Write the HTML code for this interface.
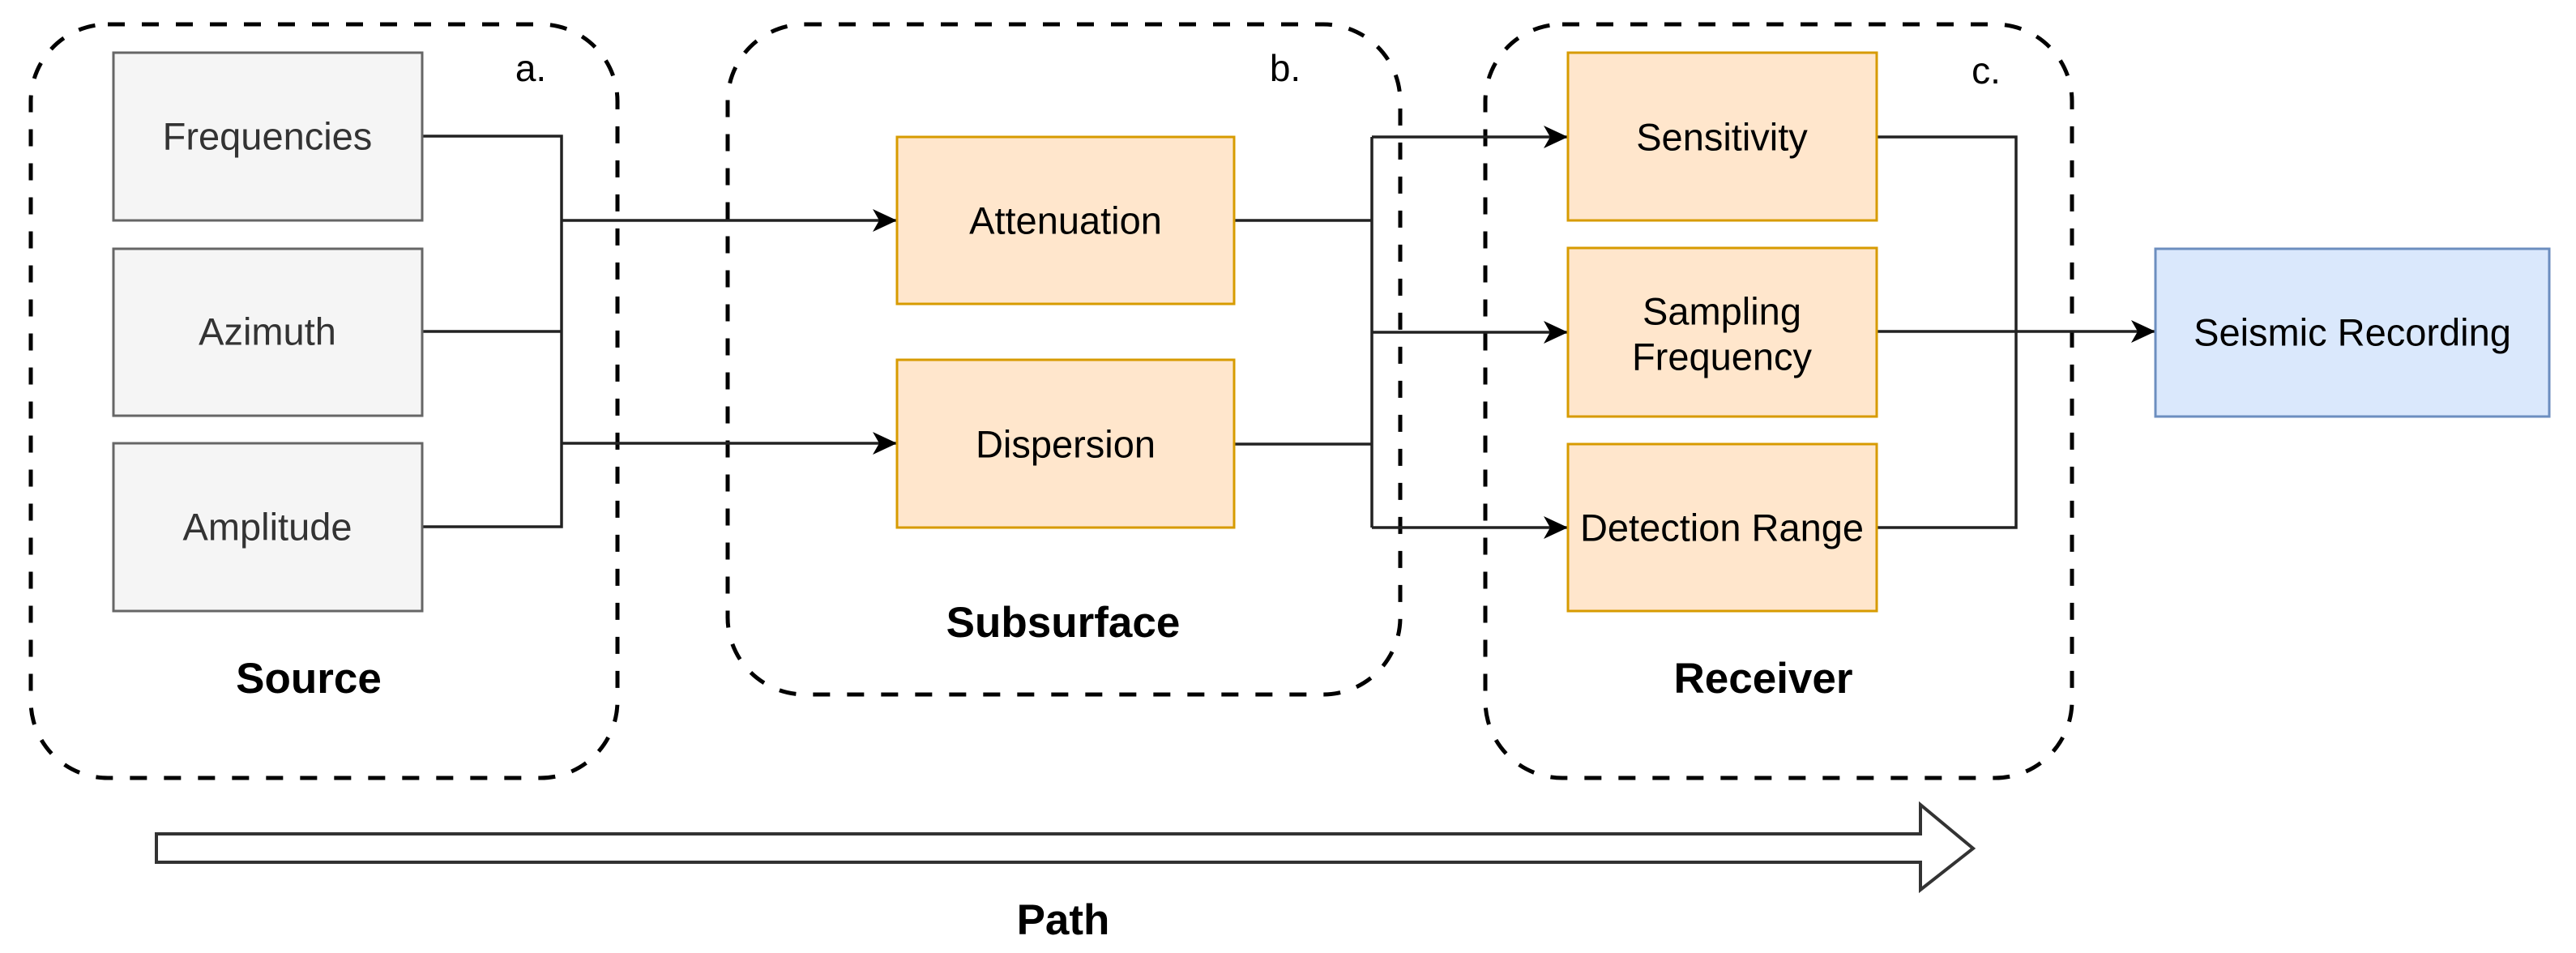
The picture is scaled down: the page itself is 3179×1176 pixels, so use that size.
<!DOCTYPE html>
<html><head><meta charset="utf-8"><style>
html,body{margin:0;padding:0;background:#fff;}
svg{display:block;}
text{font-family:"Liberation Sans",Arial,sans-serif;}
</style></head><body>
<svg width="3179" height="1176" viewBox="0 0 3179 1176" xmlns="http://www.w3.org/2000/svg">
<defs>
<marker id="ah" markerUnits="userSpaceOnUse" markerWidth="32" markerHeight="30" refX="30" refY="15" orient="auto">
<path d="M0,1 L30,15 L0,29 L8,15 Z" fill="#000"/>
</marker>
</defs>
<!-- containers -->
<g fill="none" stroke="#000" stroke-width="5" stroke-dasharray="21,21">
<rect x="38" y="30" width="724" height="930" rx="95"/>
<rect x="898" y="30" width="830" height="827" rx="95"/>
<rect x="1833" y="30" width="724" height="930" rx="95"/>
</g>
<!-- connectors -->
<g fill="none" stroke="#222" stroke-width="3.5">
<polyline points="521,168 693,168 693,650 521,650"/>
<line x1="521" y1="409" x2="693" y2="409"/>
<line x1="693" y1="272" x2="1107" y2="272" marker-end="url(#ah)"/>
<line x1="693" y1="547" x2="1107" y2="547" marker-end="url(#ah)"/>
<line x1="1523" y1="272" x2="1693" y2="272"/>
<line x1="1523" y1="548" x2="1693" y2="548"/>
<line x1="1693" y1="169" x2="1693" y2="651"/>
<line x1="1693" y1="169" x2="1935" y2="169" marker-end="url(#ah)"/>
<line x1="1693" y1="410" x2="1935" y2="410" marker-end="url(#ah)"/>
<line x1="1693" y1="651" x2="1935" y2="651" marker-end="url(#ah)"/>
<polyline points="2316,169 2488,169 2488,651 2316,651"/>
<line x1="2316" y1="409" x2="2660" y2="409" marker-end="url(#ah)"/>
</g>
<!-- source boxes -->
<g fill="#f5f5f5" stroke="#666" stroke-width="3">
<rect x="140" y="65" width="381" height="207"/>
<rect x="140" y="307" width="381" height="206"/>
<rect x="140" y="547" width="381" height="207"/>
</g>
<g fill="#ffe6cc" stroke="#d79b00" stroke-width="3">
<rect x="1107" y="169" width="416" height="206"/>
<rect x="1107" y="444" width="416" height="207"/>
<rect x="1935" y="65" width="381" height="207"/>
<rect x="1935" y="306" width="381" height="208"/>
<rect x="1935" y="548" width="381" height="206"/>
</g>
<rect x="2660" y="307" width="486" height="207" fill="#dae8fc" stroke="#6c8ebf" stroke-width="3"/>
<!-- path arrow -->
<path d="M193,1029 L2370,1029 L2370,993 L2435,1047 L2370,1098 L2370,1064 L193,1064 Z" fill="#fff" stroke="#333" stroke-width="4" stroke-linejoin="miter"/>
<!-- texts -->
<g font-size="47" text-anchor="middle" dominant-baseline="central" fill="#333">
<text x="330" y="168">Frequencies</text>
<text x="330" y="409">Azimuth</text>
<text x="330" y="650">Amplitude</text>
</g>
<g font-size="47" text-anchor="middle" dominant-baseline="central" fill="#000">
<text x="1315" y="272">Attenuation</text>
<text x="1315" y="548">Dispersion</text>
<text x="2125" y="169">Sensitivity</text>
<text x="2125" y="384">Sampling</text>
<text x="2125" y="440">Frequency</text>
<text x="2125" y="651">Detection Range</text>
<text x="2903" y="410">Seismic Recording</text>
</g>
<g font-size="46" fill="#000" text-anchor="middle">
<text x="655" y="100">a.</text>
<text x="1586" y="100">b.</text>
<text x="2451" y="103">c.</text>
</g>
<g font-size="53" font-weight="bold" fill="#000" text-anchor="middle">
<text x="381" y="855">Source</text>
<text x="1312" y="786">Subsurface</text>
<text x="2176" y="855">Receiver</text>
<text x="1312" y="1153">Path</text>
</g>
</svg>
</body></html>
